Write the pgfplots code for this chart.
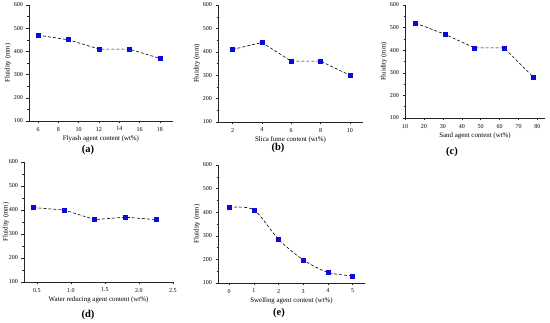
\documentclass[border=0pt]{standalone}
\usepackage{fontspec}
\setmainfont{Liberation Serif}
\usepackage{pgfplots}
\pgfplotsset{compat=1.18}
\definecolor{mk}{RGB}{10,10,220}
\pgfplotsset{
  panel/.style={
    scale only axis,
    anchor=south west,
    axis lines*=left,
    axis line style={black!85, line width=0.5pt},
    ymin=100, ymax=600,
    ytick={100,200,...,600},
    minor tick num=1,
    tick align=outside,
    major tick length=2.5pt,
    minor tick length=1.5pt,
    tick style={black!85, line width=0.4pt},
    tick label style={font=\fontsize{6}{6.5}\selectfont},
    /pgf/number format/assume math mode=true,
    label style={font=\fontsize{6.9}{7.5}\selectfont},
    ylabel={Fluidity (mm)},
    ylabel style={yshift=-4pt},
    xlabel style={yshift=2pt},
    clip=false,
  },
  ser/.style={black, densely dashed, line width=0.6pt, mark=square*,
    mark options={solid, fill=mk, draw=mk}, mark size=2pt},
}
\begin{document}
\begin{tikzpicture}
\useasboundingbox (0pt,0pt) rectangle (550pt,-323pt);
% (a)
\begin{axis}[panel, at={(29pt,-121pt)}, width=144pt, height=116pt,
  xmin=5.1, xmax=19.3, xtick={6,8,...,18},
  xlabel={Flyash agent content (wt\%)}]
\addplot[ser] coordinates {(6,470) (9,450) (12,410) (15,410) (18,370)};
\end{axis}
% (b)
\begin{axis}[panel, at={(218pt,-122pt)}, width=145pt, height=117pt,
  xmin=1.0, xmax=10.9, xtick={2,4,...,10},
  xlabel={Slica fume content (wt\%)}]
\addplot[ser] coordinates {(2,410) (4,440) (6,360) (8,360) (10,300)};
\end{axis}
% (c)
\begin{axis}[panel, at={(405pt,-118pt)}, width=140pt, height=113pt,
  xmin=10, xmax=84, xtick={10,20,...,80},
  xlabel={Sand agent content (wt\%)}]
\addplot[ser] coordinates {(15.6,520) (31.2,470) (46.8,410) (62.4,410) (78,280)};
\end{axis}
% (d)
\begin{axis}[panel, at={(24pt,-282pt)}, width=149pt, height=120pt,
  xmin=0.31, xmax=2.5, xtick={0.5,1.0,...,2.5},
  ylabel style={yshift=-3pt},
  xticklabel style={/pgf/number format/.cd, fixed, fixed zerofill, precision=1},
  xlabel={Water reducing agent content (wt\%)}]
\addplot[ser] coordinates {(0.45,410) (0.9,400) (1.35,360) (1.8,370) (2.25,360)};
\end{axis}
% (e)
\begin{axis}[panel, at={(218pt,-283pt)}, width=147pt, height=118pt,
  xmin=-0.45, xmax=5.5, xtick={0,1,...,5},
  xlabel={Swelling agent content (wt\%)}]
\addplot[ser, smooth, tension=0.5] coordinates {(0,420) (1,410) (2,285) (3,198) (4,145) (5,130)};
\end{axis}
\node[font=\fontsize{10.5}{11}\selectfont\bfseries] at (88pt,-150pt) {(a)};
\node[font=\fontsize{10.5}{11}\selectfont\bfseries] at (278pt,-148pt) {(b)};
\node[font=\fontsize{10.5}{11}\selectfont\bfseries] at (452pt,-152pt) {(c)};
\node[font=\fontsize{10.5}{11}\selectfont\bfseries] at (88pt,-315pt) {(d)};
\node[font=\fontsize{10.5}{11}\selectfont\bfseries] at (279pt,-313pt) {(e)};
\end{tikzpicture}
\end{document}
